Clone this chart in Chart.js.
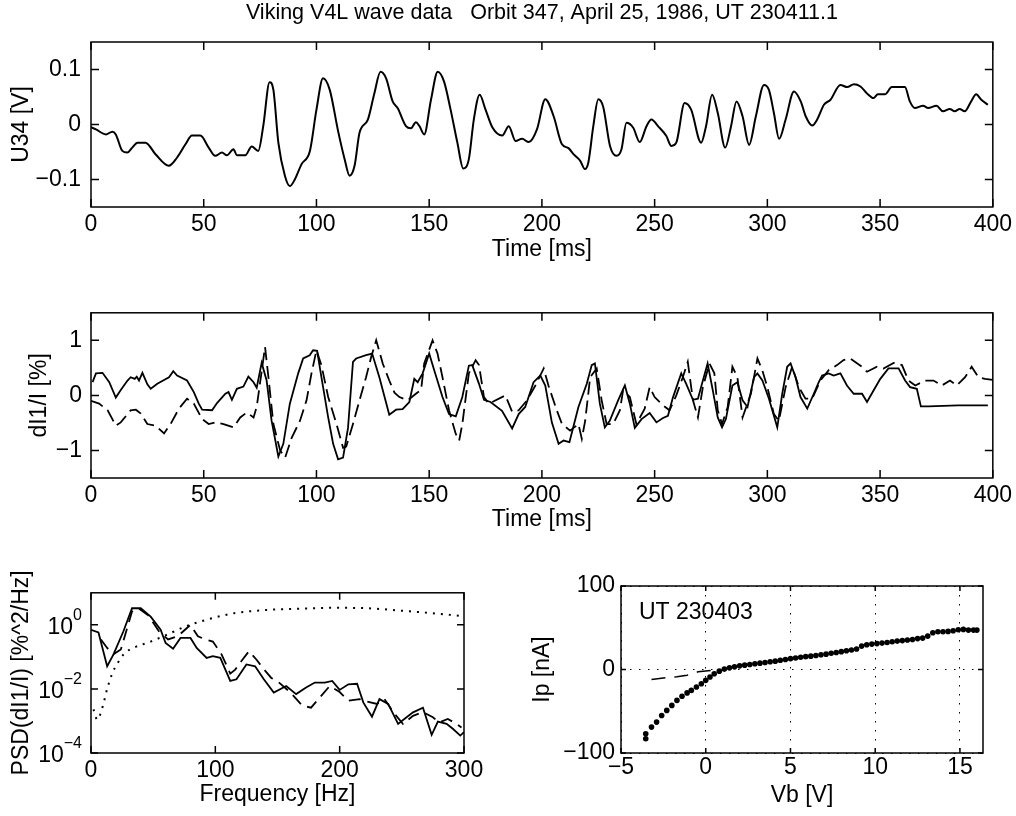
<!DOCTYPE html>
<html>
<head>
<meta charset="utf-8">
<script src="https://cdn.jsdelivr.net/npm/chart.js@4.4.1/dist/chart.umd.min.js"></script>
<style>
  body { margin: 0; background: #fff; }
  .box { position: absolute; }
</style>
</head>
<body>
<div class="box" style="left:0;top:0"><canvas id="c1" width="1016" height="263"></canvas></div>
<div class="box" style="left:0;top:290px"><canvas id="c2" width="1016" height="243"></canvas></div>
<div class="box" style="left:0;top:570px"><canvas id="c3" width="500" height="246"></canvas></div>
<div class="box" style="left:500px;top:566px"><canvas id="c4" width="516" height="250"></canvas></div>
<script>
// ---- data ----
const titleText = 'Viking V4L wave data   Orbit 347, April 25, 1986, UT 230411.1';

const timeTicks = [0, 50, 100, 150, 200, 250, 300, 350, 400];
const u34Ticks = [-0.1, 0, 0.1];
const dI1Ticks = [-1, 0, 1];
const freqTicks = [0, 100, 200, 300];
const psdTicks = [1e-4, 1e-2, 1];
const vbTicks = [-5, 0, 5, 10, 15];
const ipTicks = [-100, 0, 100];

// U34 [V] vs time [ms]
const u34 = [[0,-0.005],[2.2,-0.009],[6.6,-0.018],[9.5,-0.013],[11,-0.018],[13.9,-0.048],[16.1,-0.051],[18.3,-0.042],
  [20.6,-0.033],[24.2,-0.033],[28.6,-0.054],[34.5,-0.075],[38.2,-0.06],[41.9,-0.036],[44.8,-0.02],[48.5,-0.02],
  [52.2,-0.042],[55.1,-0.057],[58.1,-0.051],[60.3,-0.056],[63.2,-0.045],[64.7,-0.056],[68.4,-0.056],[71.3,-0.04],
  [74.2,-0.048],[76.4,-0.003],[79.2,0.077],[80.9,0.063],[83.1,-0.033],[86,-0.093],[88.2,-0.112],[90.4,-0.1],
  [93.4,-0.072],[97.1,-0.048],[100,0.027],[102.9,0.084],[105.9,0.063],[109.6,-0.012],[112.5,-0.063],[114.7,-0.093],
  [116.9,-0.075],[119.1,-0.015],[122.8,0.009],[125.7,0.057],[128.4,0.096],[130.9,0.084],[133.8,0.042],[136,0.03],
  [139.7,-0.003],[141.9,-0.007],[144.1,0.004],[145.7,-0.003],[147.8,-0.018],[150.8,0.045],[153.8,0.096],[156.6,0.078],
  [159.5,0.027],[162.5,-0.033],[165.1,-0.08],[167.6,-0.063],[169.8,0.009],[172.4,0.054],[175,0.027],[178,-0.005],
  [182.4,-0.02],[185.3,-0.003],[188.3,-0.03],[191.2,-0.026],[194.2,-0.032],[197.8,-0.009],[201.5,0.046],[205.2,0.015],
  [208.9,-0.036],[211.8,-0.043],[214,-0.054],[217,-0.066],[219.1,-0.081],[220.6,-0.069],[222.8,-0.003],[225,0.046],
  [227.2,0.032],[230.2,-0.039],[233.1,-0.057],[235.3,-0.045],[237.5,0.003],[240.5,-0.006],[243.4,-0.032],[246.4,-0.003],
  [248.6,0.009],[251.5,-0.003],[255.2,-0.021],[257.4,-0.039],[259.6,-0.033],[263.3,0.039],[266.2,0.027],[270.6,-0.033],
  [272.8,-0.003],[275.5,0.054],[278,0.021],[281.3,-0.042],[283.9,-0.003],[286.3,0.042],[289,0.015],[291.9,-0.037],
  [294.9,0.015],[298.5,0.072],[300.7,0.063],[302.9,0.021],[305.2,-0.026],[308.1,0.009],[311.8,0.06],[314.8,0.042],
  [317,0.015],[319.9,-0.002],[322.1,0.009],[325.1,0.036],[328,0.045],[332.4,0.072],[335.4,0.068],[338.4,0.073],
  [341.3,0.069],[344.1,0.057],[347.1,0.048],[349,0.055],[352.2,0.055],[355.2,0.068],[361,0.068],[363.2,0.042],
  [365.4,0.03],[369.1,0.034],[371.3,0.03],[375,0.034],[377.9,0.024],[380.9,0.028],[383.1,0.024],[385.3,0.028],
  [387.5,0.024],[390.4,0.042],[392.6,0.055],[394.9,0.045],[397.8,0.036]];

// dI1/I [%] vs time, solid probe
const dI1Solid = [[0.7,0.24],[2.2,0.4],[5.1,0.41],[8.1,0.24],[11,-0.04],[13.2,0.1],[16.2,0.27],[17.6,0.33],[19.4,0.3],
  [20.3,0.34],[21.3,0.27],[22.8,0.41],[25,0.2],[26.5,0.12],[29.4,0.21],[32.4,0.28],[34.6,0.33],[36.5,0.44],[38.2,0.36],
  [42.6,0.27],[45.6,0.06],[47.8,-0.15],[49.3,-0.26],[53.7,-0.27],[55.9,-0.14],[59.6,0.03],[61,0.06],[62.5,-0.08],
  [64.7,0.12],[67.6,0.16],[69.8,0.34],[72.1,0.24],[73.5,0.14],[75.7,0.59],[77.9,0.27],[80.1,-0.46],[83.1,-1.11],
  [85.3,-0.88],[88.2,-0.15],[91.9,0.4],[94.1,0.67],[97,0.73],[98.5,0.82],[100.3,0.81],[102.2,0.33],[105.2,-0.4],
  [107.4,-0.88],[109.6,-1.16],[111.8,-1.13],[114,-0.59],[116.2,0.61],[117.6,0.67],[122,0.73],[124.7,0.76],[127.9,0.33],
  [132.3,-0.35],[135.3,-0.26],[138.2,-0.25],[141.2,-0.12],[143.4,0.3],[144.9,0.24],[147.1,0.4],[150,0.76],[152.2,0.46],
  [155.9,-0.03],[158.8,-0.34],[161.8,-0.38],[164.7,-0.03],[167.6,0.54],[169.1,0.55],[172.1,0.21],[174.3,-0.08],
  [177.2,-0.12],[182.3,-0.28],[186.8,-0.6],[189.7,-0.34],[192.6,-0.21],[196.3,0.24],[199.3,0.36],[201.5,0.18],
  [204.4,-0.49],[207.4,-0.88],[209.6,-0.82],[212.2,-0.85],[213.7,-0.61],[216.2,-0.21],[219.9,0.21],[222.1,0.55],
  [223.5,0.58],[225.7,-0.15],[227.9,-0.58],[230.1,-0.46],[233.8,-0.09],[236.8,0.18],[239,-0.15],[241.2,-0.59],
  [244.2,-0.43],[247.8,-0.32],[250.8,-0.49],[253.7,-0.41],[255.9,-0.37],[258.1,-0.04],[261.8,0.4],[264,0.21],
  [267,-0.08],[269.2,-0.06],[271.4,0.27],[273.5,0.58],[275.8,0.09],[278,-0.4],[279.9,-0.58],[281.6,-0.43],[284.5,0.18],
  [286.7,0.24],[289,-0.09],[291.2,-0.21],[294.1,0.33],[295.6,0.4],[297.8,0.27],[300.7,-0.06],[304.4,-0.58],[306.6,0.03],
  [308.8,0.52],[310.3,0.58],[312.5,0.33],[314.7,-0.03],[317.7,-0.24],[320.6,0.03],[322.8,0.24],[324.3,0.36],[327.2,0.4],
  [329.4,0.36],[332.4,0.4],[335.3,0.18],[338.3,0.03],[342,0.03],[344.2,-0.12],[347.1,0.09],[350.1,0.3],[353.7,0.49],
  [358.2,0.49],[361.1,0.27],[363.3,0.15],[366.3,0.12],[368.1,-0.2],[371.4,-0.2],[384.6,-0.18],[397.8,-0.18]];

// dI1/I [%] vs time, dashed probe
const dI1Dashed = [[0,-0.1],[3.6,-0.15],[7.4,-0.27],[11,-0.55],[13.2,-0.49],[17.6,-0.27],[19.9,-0.26],[22.1,-0.33],
  [25,-0.52],[28.7,-0.55],[32.4,-0.69],[35.3,-0.52],[39,-0.24],[42.6,-0.06],[45.6,-0.15],[49.3,-0.43],[52.2,-0.52],
  [55.2,-0.49],[58.8,-0.52],[63.2,-0.58],[66.2,-0.4],[69.1,-0.31],[72.1,-0.4],[73.5,-0.21],[77.2,0.88],[78.7,0.33],
  [80.9,-0.52],[83.9,-1],[86.1,-1.13],[89,-0.77],[92.7,-0.46],[95.6,-0.09],[97.8,0.4],[100,0.82],[102.2,0.55],
  [105.2,-0.03],[108.9,-0.52],[111.8,-0.95],[113.2,-0.93],[116.2,-0.52],[119.1,-0.09],[122,0.33],[124.3,0.7],[126.5,1],
  [129.4,0.58],[132.3,0.27],[134.6,0.05],[136.8,-0.03],[140.5,-0.09],[144.1,0.03],[146.4,0.1],[147.8,0.58],[151.5,1],
  [153.7,0.76],[155.9,0.33],[158.8,-0.27],[161.8,-0.7],[163.3,-0.82],[164.7,-0.52],[167.6,0.4],[170.6,0.64],[172.1,0.55],
  [174.3,-0.03],[176.5,-0.15],[183.8,0],[186.8,-0.3],[189.7,-0.27],[193.4,-0.09],[197.1,0.18],[200.8,0.49],[202.9,0.18],
  [206.6,-0.27],[208.9,-0.52],[212.5,-0.64],[216.2,-0.52],[217.7,-0.79],[219.2,-0.46],[221.4,0.33],[224.3,0.49],
  [226.5,-0.09],[228.7,-0.52],[231.6,-0.52],[234.6,-0.27],[236,0.09],[239,-0.03],[241.9,-0.52],[245.6,-0.24],[247.8,0.15],
  [250,-0.03],[253.7,-0.18],[256.6,-0.27],[259.6,0],[262.5,0.33],[264.7,0.61],[267,-0.09],[269.2,-0.4],[271.4,0.15],
  [274.3,0.58],[276.5,0.4],[278,-0.27],[279.9,-0.52],[282.4,-0.21],[284.5,0.52],[286.7,0.33],[289,-0.4],[292.7,0.03],
  [295.6,0.67],[297.8,0.45],[300,0.15],[302.9,-0.34],[305.1,-0.46],[308.1,0.15],[311,0.52],[314,0.15],[316.9,-0.06],
  [319.9,-0.06],[323.5,0.27],[327.2,0.46],[330.9,0.55],[333.8,0.64],[336.8,0.67],[342,0.52],[344.2,0.43],[348.6,0.52],
  [351.5,0.49],[356,0.59],[359.7,0.55],[362.6,0.27],[365.6,0.18],[370,0.27],[373.7,0.27],[377.4,0.18],[381,0.27],
  [384,0.18],[387.7,0.33],[390.6,0.52],[393.6,0.33],[396.5,0.3],[400,0.28]];

// PSD(dI1/I) [%^2/Hz] vs frequency [Hz]
const psdSolid = [[0,0.7],[6,0.58],[13,0.051],[18,0.118],[26,0.62],[33,3.3],[40,3.3],[48,1.8],[56,0.7],[60,0.27],
  [66,0.18],[72,0.39],[80,0.39],[85,0.19],[93,0.093],[98,0.105],[104,0.093],[112,0.0177],[117,0.02],[125,0.058],
  [132,0.051],[139,0.02],[147,0.0077],[157,0.0123],[165,0.0069],[173,0.011],[180,0.0158],[188,0.0158],[194,0.0177],
  [200,0.0093],[207,0.0139],[214,0.0145],[219,0.0038],[226,0.00136],[232,0.0048],[239,0.0034],[247,0.00081],
  [252,0.00115],[259,0.00186],[267,0.0026],[274,0.00037],[279,0.00095],[286,0.00081],[291,0.00057],[297,0.00035],
  [300,0.00045]];
const psdDashed = [[8,0.35],[13,0.19],[18,0.12],[24,0.17],[33,2.6],[38,3.3],[46,2],[55,0.6],[62,0.35],[70,0.45],
  [80,1],[86,0.44],[92,0.35],[98,0.3],[105,0.12],[112,0.03],[116,0.04],[121,0.074],[127,0.15],[133,0.083],[139,0.041],
  [145,0.022],[151,0.016],[160,0.008],[170,0.003],[177,0.0026],[184,0.0054],[192,0.0123],[200,0.008],[207,0.0043],
  [216,0.0048],[222,0.004],[230,0.0034],[236,0.0048],[244,0.0017],[251,0.0008],[259,0.00145],[267,0.0019],
  [275,0.0013],[280,0.0009],[287,0.00115],[292,0.0009],[298,0.00063]];
const psdDotted = [[2,0.0023],[5,0.0011],[9,0.0025],[13,0.01],[17,0.03],[21,0.06],[27,0.13],[34,0.19],[48,0.3],
  [61,0.49],[76,0.89],[88,1.27],[115,2.3],[141,2.9],[168,3.2],[195,3.4],[222,3.3],[248,2.8],[275,2.3],[298,1.9]];

// Ip [nA] vs Vb [V], sweep UT 230403
const ivDots = [[-3.54,-83],[-3.54,-77],[-3.2,-69],[-2.9,-63],[-2.6,-55],[-2.3,-49],[-2,-43],[-1.7,-37],[-1.4,-32],
  [-1.1,-28],[-0.85,-25],[-0.55,-21],[-0.26,-17],[0,-13],[0.25,-9],[0.5,-5],[0.8,-2],[1.1,0.5],[1.4,2],[1.7,3.2],
  [2,4.4],[2.3,5.2],[2.6,6],[2.9,6.8],[3.2,7.6],[3.5,8.4],[3.8,9.2],[4.1,10],[4.4,11],[4.7,12],[5,13],[5.3,13.8],
  [5.6,14.6],[5.9,15.4],[6.2,16],[6.5,16.8],[6.8,17.6],[7.1,18.4],[7.4,19.4],[7.7,20.4],[8,21.4],[8.3,22.4],[8.6,23.4],
  [8.9,24.6],[9.2,28],[9.5,29.6],[9.8,30.4],[10.1,31],[10.4,31.6],[10.7,32.4],[11,33.2],[11.3,34],[11.6,34.6],
  [11.9,35.4],[12.2,36],[12.5,37],[12.8,37.6],[13.1,40],[13.4,44],[13.7,45.2],[14,45.2],[14.3,45.6],[14.6,46.4],
  [14.9,47.6],[15.2,48],[15.5,47.2],[15.8,47.2],[16,47.2]];
const ivDashed = [[-3.2,-12],[-2.3,-9.6],[-1.7,-8.8],[-1.1,-6.8],[-0.45,-2.8],[0.43,-0.8]];

// ---- helpers ----
const FAMILY = '"Liberation Sans", Arial, Helvetica, sans-serif';
const FONT = {family: FAMILY, size: 23, weight: 'normal'};
const minus = v => (v < 0 ? '\u2212' + Math.abs(v) : String(v));
const toPts = arr => arr.map(p => ({x: p[0], y: p[1]}));

function axis(o) {
  return {
    type: o.type || 'linear',
    position: o.position,
    min: o.min,
    max: o.max,
    grid: {display: !!o.grid, drawTicks: false, color: '#000', lineWidth: 1},
    border: {display: false, dash: [1.5, 7.5]},
    ticks: {color: '#000', font: FONT, padding: o.pad, autoSkip: false, maxRotation: 0,
            callback: o.callback || (v => minus(v))},
    title: {display: true, text: o.title, color: '#000', font: FONT, padding: o.tpad},
    afterBuildTicks: s => { s.ticks = o.ticks.map(v => ({value: v})); },
    afterFit: s => { if (o.position === 'bottom') s.height = o.size; else s.width = o.size; }
  };
}

// box round the axes with inward ticks, matlab style
const frame = {
  id: 'frame',
  afterDatasetsDraw(chart, args, opts) {
    const {ctx, chartArea: a, scales: {x, y}} = chart;
    const L = opts.len || 0;
    ctx.save();
    ctx.strokeStyle = '#000';
    ctx.lineWidth = 1.5;
    ctx.strokeRect(a.left, a.top, a.right - a.left, a.bottom - a.top);
    if (L) {
      ctx.beginPath();
      x.ticks.forEach(t => {
        const p = x.getPixelForValue(t.value);
        ctx.moveTo(p, a.bottom); ctx.lineTo(p, a.bottom - L);
        ctx.moveTo(p, a.top); ctx.lineTo(p, a.top + L);
      });
      y.ticks.forEach(t => {
        const p = y.getPixelForValue(t.value);
        ctx.moveTo(a.left, p); ctx.lineTo(a.left + L, p);
        ctx.moveTo(a.right, p); ctx.lineTo(a.right - L, p);
      });
      ctx.stroke();
    }
    ctx.restore();
  }
};

// 10^n tick labels for the log axis
const supLabels = {
  id: 'supLabels',
  afterDraw(chart) {
    const s = chart.scales.y, ctx = chart.ctx;
    const right = s.right - 9;
    ctx.save();
    ctx.fillStyle = '#000';
    ctx.textBaseline = 'middle';
    ctx.textAlign = 'right';
    s.ticks.forEach(t => {
      const p = s.getPixelForValue(t.value);
      const e = minus(Math.round(Math.log10(t.value)));
      ctx.font = '16px ' + FAMILY;
      const ew = ctx.measureText(e).width;
      ctx.fillText(e, right, p - 9);
      ctx.font = '23px ' + FAMILY;
      ctx.fillText('10', right - ew, p + 3);
    });
    ctx.restore();
  }
};

// text label inside the I-V panel
const note = {
  id: 'note',
  afterDraw(chart, args, opts) {
    const {ctx, scales: {x, y}} = chart;
    ctx.save();
    ctx.fillStyle = '#000';
    ctx.font = '23px ' + FAMILY;
    ctx.textBaseline = 'middle';
    ctx.fillText(opts.text, x.getPixelForValue(opts.x), y.getPixelForValue(opts.y));
    ctx.restore();
  }
};

const base = {
  animation: false,
  responsive: false,
  events: []
};
const quiet = {legend: {display: false}, tooltip: {enabled: false}};

// ---- 1: U34 ----
new Chart(document.getElementById('c1'), {
  type: 'line',
  data: {datasets: [{data: toPts(u34), borderColor: '#000', borderWidth: 2, pointRadius: 0,
                     cubicInterpolationMode: 'monotone'}]},
  options: {...base,
    layout: {padding: {left: 0, right: 22, top: 0, bottom: 0}},
    plugins: {...quiet, frame: {len: 8},
      title: {display: true, text: titleText, fullSize: false, color: '#000',
              font: {family: FAMILY, size: 21.5, weight: 'normal'}, padding: {top: 0, bottom: 16.2}}},
    scales: {
      x: axis({position: 'bottom', min: 0, max: 400, ticks: timeTicks, title: 'Time [ms]',
               pad: 4, tpad: {top: 0, bottom: 0}, size: 56}),
      y: axis({position: 'left', min: -0.15, max: 0.15, ticks: u34Ticks, title: 'U34 [V]',
               pad: 10, tpad: {top: 8.2, bottom: 0}, size: 91})
    }
  },
  plugins: [frame]
});

// ---- 2: dI1/I ----
new Chart(document.getElementById('c2'), {
  type: 'line',
  data: {datasets: [
    {data: toPts(dI1Solid), borderColor: '#000', borderWidth: 1.8, pointRadius: 0},
    {data: toPts(dI1Dashed), borderColor: '#000', borderWidth: 1.8, pointRadius: 0, borderDash: [13, 6]}
  ]},
  options: {...base,
    layout: {padding: {left: 0, right: 22, top: 22, bottom: 0}},
    plugins: {...quiet, frame: {len: 8}},
    scales: {
      x: axis({position: 'bottom', min: 0, max: 400, ticks: timeTicks, title: 'Time [ms]',
               pad: 4, tpad: {top: 0, bottom: 0}, size: 55}),
      y: axis({position: 'left', min: -1.5, max: 1.5, ticks: dI1Ticks, title: 'dI1/I [%]',
               pad: 9, tpad: {top: 26.2, bottom: 0}, size: 91})
    }
  },
  plugins: [frame]
});

// ---- 3: PSD ----
new Chart(document.getElementById('c3'), {
  type: 'line',
  data: {datasets: [
    {data: toPts(psdSolid), borderColor: '#000', borderWidth: 1.8, pointRadius: 0},
    {data: toPts(psdDashed), borderColor: '#000', borderWidth: 1.8, pointRadius: 0, borderDash: [12, 7]},
    {data: toPts(psdDotted), borderColor: '#000', borderWidth: 2, pointRadius: 0, borderDash: [2, 6],
     cubicInterpolationMode: 'monotone'}
  ]},
  options: {...base,
    layout: {padding: {left: 0, right: 36, top: 19, bottom: 0}},
    plugins: {...quiet, frame: {len: 7}},
    scales: {
      x: axis({position: 'bottom', min: 0, max: 300, ticks: freqTicks, title: 'Frequency [Hz]',
               pad: 4, tpad: {top: 0, bottom: 7.2}, size: 63}),
      y: axis({type: 'logarithmic', position: 'left', min: 1e-4, max: 10, ticks: psdTicks,
               title: 'PSD(dI1/I) [%^2/Hz]', pad: 9, tpad: {top: 8.2, bottom: 0}, size: 91,
               callback: () => ''})
    }
  },
  plugins: [frame, supLabels]
});

// ---- 4: I-V sweep ----
new Chart(document.getElementById('c4'), {
  type: 'scatter',
  data: {datasets: [
    {data: toPts(ivDots), pointRadius: 2.8, pointBackgroundColor: '#000', pointBorderWidth: 0, showLine: false},
    {type: 'line', data: toPts(ivDashed), borderColor: '#000', borderWidth: 1.5, pointRadius: 0, borderDash: [14, 9]}
  ]},
  options: {...base,
    layout: {padding: {left: 0, right: 33, top: 20, bottom: 0}},
    plugins: {...quiet, frame: {len: 5}, note: {text: 'UT 230403', x: -3.94, y: 67.7}},
    scales: {
      x: axis({position: 'bottom', min: -5, max: 16.36, ticks: vbTicks, title: 'Vb [V]', grid: true,
               pad: 1, tpad: {top: 0, bottom: 6.2}, size: 63}),
      y: axis({position: 'left', min: -100, max: 100, ticks: ipTicks, title: 'Ip [nA]', grid: true,
               pad: 6, tpad: {top: 28.7, bottom: 0}, size: 121})
    }
  },
  plugins: [frame, note]
});
</script>
</body>
</html>
